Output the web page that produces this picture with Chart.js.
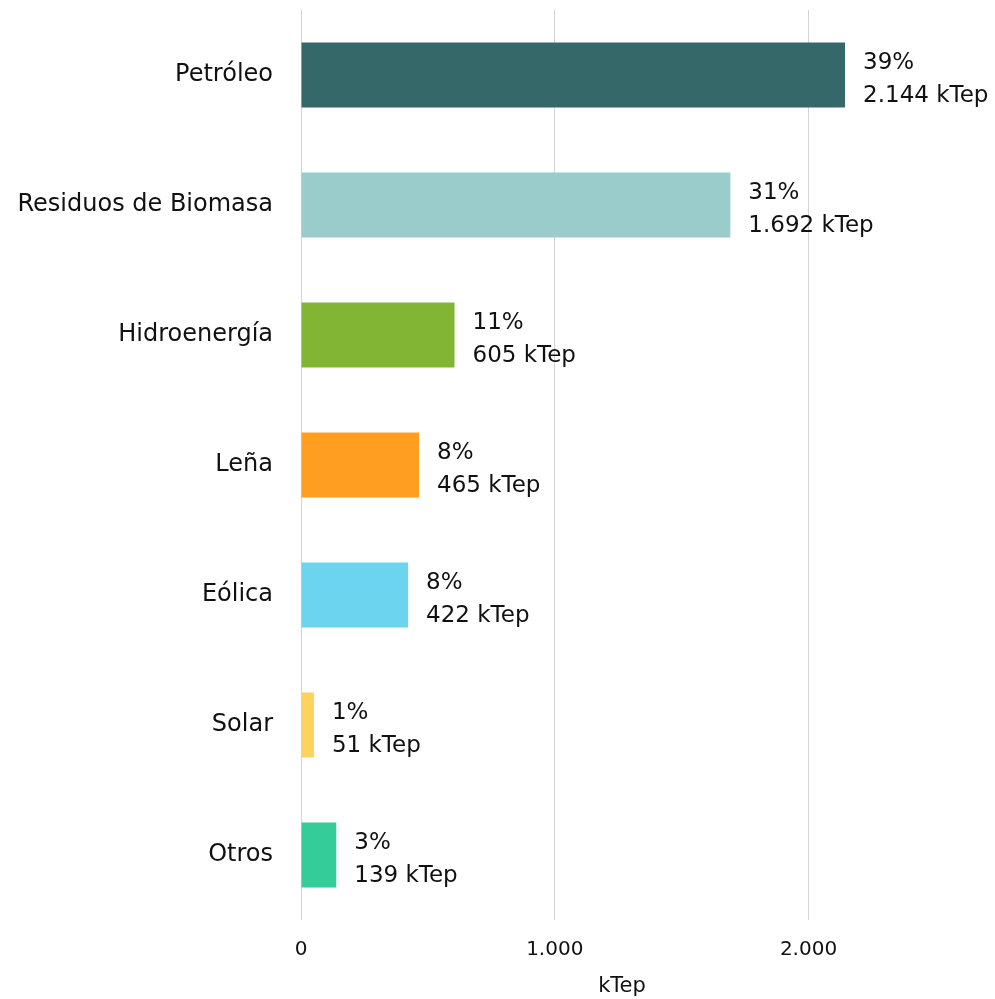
<!DOCTYPE html>
<html lang="es">
<head>
    <meta charset="UTF-8">
    <title>Consumo de energía por fuente (kTep)</title>
    <script src="https://cdn.jsdelivr.net/npm/chart.js"></script>
    <style>
        html, body { margin: 0; padding: 0; background: #fff; }
        #wrap { width: 995px; height: 999px; position: relative; }
    </style>
</head>
<body>
    <div id="wrap"><canvas id="myChart"></canvas></div>
    <script>
        // Datos
        const fuentes = ['Petróleo', 'Residuos de Biomasa', 'Hidroenergía', 'Leña', 'Eólica', 'Solar', 'Otros'];
        const valores = [2144, 1692, 605, 465, 422, 51, 139];
        const porcentajes = [39, 31, 11, 8, 8, 1, 3];
        const colores = ['#356868', '#9acccc', '#83b535', '#ff9e20', '#6dd4f0', '#ffd25e', '#34cc98'];
        const marcasX = [0, 1000, 2000];

        const FUENTE = 'DejaVu Sans';

        // Formato con punto de miles (1.000, 2.144)
        function miles(n) {
            return String(n).replace(/\B(?=(\d{3})+(?!\d))/g, '.');
        }

        // Etiquetas de dos líneas a la derecha de cada barra
        const etiquetas = {
            id: 'etiquetas',
            afterDatasetsDraw(chart) {
                const ctx = chart.ctx;
                const meta = chart.getDatasetMeta(0);
                ctx.save();
                ctx.fillStyle = '#111';
                ctx.font = '23px "' + FUENTE + '"';
                ctx.textAlign = 'left';
                ctx.textBaseline = 'middle';
                meta.data.forEach((bar, i) => {
                    const x = bar.x + 18;
                    ctx.fillText(porcentajes[i] + '%', x, bar.y - 12);
                    ctx.fillText(miles(valores[i]) + ' kTep', x, bar.y + 21);
                });
                ctx.restore();
            }
        };

        const ctx = document.getElementById('myChart').getContext('2d');
        new Chart(ctx, {
            type: 'bar',
            data: {
                labels: fuentes,
                datasets: [{
                    data: valores,
                    backgroundColor: colores,
                    barPercentage: 0.5,
                    categoryPercentage: 1
                }]
            },
            options: {
                indexAxis: 'y',
                responsive: true,
                maintainAspectRatio: false,
                animation: false,
                layout: { padding: { top: 10, right: 52, left: 0, bottom: 0 } },
                plugins: {
                    legend: { display: false },
                    tooltip: { enabled: false }
                },
                scales: {
                    x: {
                        min: 0,
                        max: 2530,
                        afterBuildTicks(axis) {
                            axis.ticks = marcasX.map(v => ({ value: v }));
                        },
                        afterFit(axis) {
                            axis.height = 79;
                            axis.paddingRight = 0;
                        },
                        grid: { color: '#d4d4d4', lineWidth: 1, drawTicks: false },
                        border: { display: false },
                        ticks: {
                            padding: 18,
                            maxRotation: 0,
                            autoSkip: false,
                            color: '#111',
                            font: { family: FUENTE, size: 20 },
                            callback: v => miles(v)
                        },
                        title: {
                            display: true,
                            text: 'kTep',
                            color: '#111',
                            padding: { top: 0, bottom: 0 },
                            font: { family: FUENTE, size: 21 }
                        }
                    },
                    y: {
                        afterFit(axis) {
                            axis.width = 301;
                            axis.paddingTop = 0;
                            axis.paddingBottom = 0;
                        },
                        grid: { display: false, drawTicks: false },
                        border: { display: false },
                        ticks: {
                            padding: 28,
                            color: '#111',
                            font: { family: FUENTE, size: 24 }
                        }
                    }
                }
            },
            plugins: [etiquetas]
        });
    </script>
</body>
</html>
